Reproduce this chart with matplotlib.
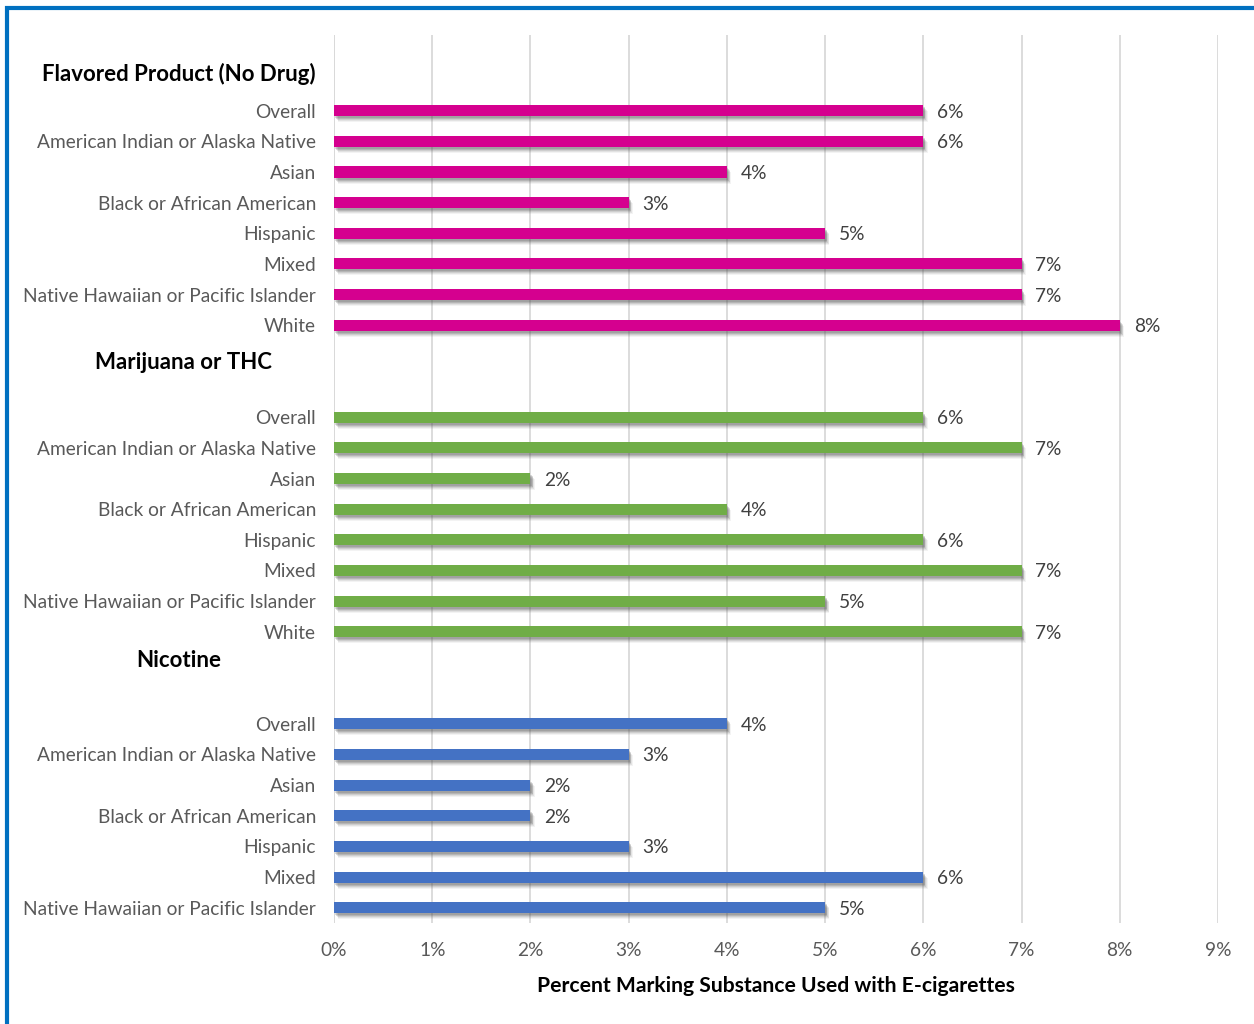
import numpy as np
import matplotlib.pyplot as plt
from matplotlib.transforms import blended_transform_factory, ScaledTranslation
from matplotlib.patches import Rectangle

plt.rcParams['font.family'] = ['Lato', 'DejaVu Sans']

groups = ["Flavored Product (No Drug)", "Marijuana or THC", "Nicotine"]
categories = [
    ["Overall", "American Indian or Alaska Native", "Asian", "Black or African American",
     "Hispanic", "Mixed", "Native Hawaiian or Pacific Islander", "White"],
    ["Overall", "American Indian or Alaska Native", "Asian", "Black or African American",
     "Hispanic", "Mixed", "Native Hawaiian or Pacific Islander", "White"],
    ["Overall", "American Indian or Alaska Native", "Asian", "Black or African American",
     "Hispanic", "Mixed", "Native Hawaiian or Pacific Islander"],
]
flavored = [6, 6, 4, 3, 5, 7, 7, 8]
marijuana = [6, 7, 2, 4, 6, 7, 5, 7]
nicotine = [4, 3, 2, 2, 3, 6, 5]
values = [flavored, marijuana, nicotine]
colors = ["#D5008F", "#70AD47", "#4472C4"]
xticks = list(range(10))

fig = plt.figure(figsize=(12.54, 10.24), dpi=100)
ax = fig.add_axes([334 / 1254, 1 - 923 / 1024, (1218 - 334) / 1254, (923 - 35) / 1024])

# row layout: header row, (blank row for later groups), then categories
row = 0
header_rows = []
bar_rows = []
for gi, cats in enumerate(categories):
    header_rows.append(row)
    row += 1 if gi == 0 else 2
    rows = list(range(row, row + len(cats)))
    bar_rows.append(rows)
    row += len(cats)
nrows = row

h = 0.36
for gi in range(len(groups)):
    ys = np.array(bar_rows[gi])
    vals = np.array(values[gi])
    # soft shadow under each bar
    for k, a in [(6, 0.07), (5, 0.10), (4, 0.14), (3, 0.2), (2, 0.2)]:
        off = ScaledTranslation(k * 0.7 / 100, -k / 100, fig.dpi_scale_trans)
        ax.barh(ys, vals, height=h, color="#555555", alpha=a, zorder=2,
                transform=ax.transData + off)
    ax.barh(ys, vals, height=h, color=colors[gi], zorder=3)
    for y, v in zip(ys, vals):
        ax.annotate(f"{v}%", (v, y), xytext=(10, 0), textcoords="offset points",
                    ha="left", va="center_baseline", fontsize=13.8, color="#404040")

ax.set_xlim(0, 9)
ax.set_ylim(nrows - 0.5, -1.47)
ax.set_xticks(xticks)
ax.set_xticklabels([f"{t}%" for t in xticks], fontsize=13.8, color="#595959")
ax.tick_params(axis="x", length=0, pad=14)
ax.tick_params(axis="y", length=0, pad=13)
all_rows = [r for rs in bar_rows for r in rs]
all_labels = [c for cs in categories for c in cs]
ax.set_yticks(all_rows)
ax.set_yticklabels(all_labels, fontsize=13.8, color="#595959")
ax.grid(axis="x", color="#d9d9d9", linewidth=1.3, zorder=0)
for s in ax.spines.values():
    s.set_visible(False)
ax.axvline(0, color="#d9d9d9", linewidth=1.3, zorder=1)

ax.set_xlabel("Percent Marking Substance Used with E-cigarettes", fontsize=15.2,
              fontweight="bold", color="black", labelpad=12)

trans = blended_transform_factory(fig.transFigure, ax.transData)
header_shift = [-0.2, 0.22, -0.05]
header_x = [179, 183, 179]
for gi, g in enumerate(groups):
    ax.text(header_x[gi] / 1254, header_rows[gi] + header_shift[gi], g, transform=trans,
            ha="center", va="center", fontsize=16, fontweight="bold", color="black")

# blue frame
fig.patches.append(Rectangle((7 / 1254, -0.1), 1.2, 1 - 7.5 / 1024 + 0.1,
                             transform=fig.transFigure, fill=False,
                             edgecolor="#0070C0", linewidth=3, zorder=10))

fig.savefig("out.png", dpi=100)
